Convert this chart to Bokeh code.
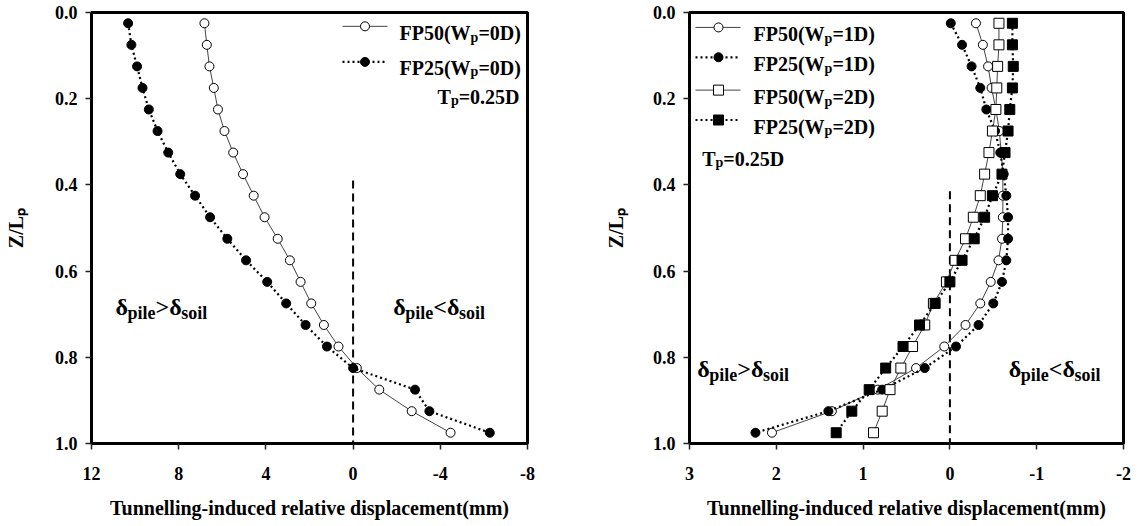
from bokeh.plotting import figure
from bokeh.models import Range1d, FixedTicker, PrintfTickFormatter, Label
from bokeh.layouts import row
from bokeh.embed import file_html
from bokeh.resources import INLINE

# ---------------- data ----------------
depth = [0.025, 0.075, 0.125, 0.175, 0.225, 0.275, 0.325, 0.375, 0.425, 0.475,
         0.525, 0.575, 0.625, 0.675, 0.725, 0.775, 0.825, 0.875, 0.925, 0.975]

# left panel (Wp = 0D)
fp50_w0 = [6.82, 6.71, 6.59, 6.39, 6.20, 5.90, 5.50, 5.05, 4.56, 4.06,
           3.46, 2.90, 2.41, 1.92, 1.34, 0.67, -0.17, -1.20, -2.69, -4.47]
fp25_w0 = [10.32, 10.17, 9.91, 9.66, 9.37, 8.97, 8.48, 7.93, 7.25, 6.56,
           5.77, 4.91, 3.94, 3.07, 2.18, 1.20, 0.00, -2.84, -3.50, -6.27]

# right panel (Wp = 1D, 2D)
fp50_w1 = [-0.30, -0.38, -0.44, -0.48, -0.53, -0.57, -0.59, -0.61, -0.61, -0.61,
           -0.60, -0.56, -0.47, -0.35, -0.18, 0.065, 0.39, 0.83, 1.36, 2.05]
fp25_w1 = [-0.01, -0.14, -0.25, -0.35, -0.42, -0.52, -0.58, -0.62, -0.65, -0.67,
           -0.67, -0.65, -0.60, -0.50, -0.33, -0.07, 0.29, 0.78, 1.40, 2.24]
fp50_w2 = [-0.565, -0.565, -0.55, -0.54, -0.53, -0.49, -0.45, -0.40, -0.35, -0.27,
           -0.18, -0.06, 0.04, 0.19, 0.29, 0.43, 0.565, 0.69, 0.78, 0.88]
fp25_w2 = [-0.72, -0.72, -0.73, -0.72, -0.69, -0.67, -0.635, -0.60, -0.49, -0.40,
           -0.28, -0.14, 0.00, 0.17, 0.35, 0.54, 0.74, 0.93, 1.13, 1.31]

left_xticks = [12, 8, 4, 0, -4, -8]
right_xticks = [3, 2, 1, 0, -1, -2]
yticks = [0.0, 0.2, 0.4, 0.6, 0.8, 1.0]
x_title = "Tunnelling-induced relative displacement(mm)"
y_title = "Z/L\u209a"

left_zero_line_top = 0.39
right_zero_line_top = 0.415

FONT = "Liberation Serif"
H = 524

# approximate advance widths (Times bold metrics, per 1000 em)
ADV = {'F': 611, 'P': 611, '(': 333, ')': 333, 'W': 1000, 'p': 556, '=': 570,
       'D': 722, 'T': 667, '.': 250, 'Z': 667, '/': 278, 'L': 667, 'i': 278,
       'l': 278, 'e': 444, 's': 389, 'o': 500, '>': 570, '<': 570, '\u03b4': 500}


def tw(text, size):
    return sum(ADV.get(c, 500) for c in text) * size / 1000.0


def converters(x0, x1, FL, FW, FT, FH):
    fx = lambda px: x0 + (px - FL) * (x1 - x0) / FW
    fy = lambda py: (py - FT) / FH
    return fx, fy


def rich(p, fx, fy, xpx, base, parts, align="left"):
    total = sum(tw(t, s) for t, s, d in parts)
    x = xpx - total if align == "right" else xpx
    for t, s, d in parts:
        p.add_layout(Label(x=fx(x), y=fy(base + d), text=t, text_font=FONT,
                           text_font_size=f"{s}px", text_font_style="bold",
                           text_baseline="alphabetic", text_align="left",
                           text_color="black"))
        x += tw(t, s)


def make_fig(xr, ticks_x, width, mbl, mbr, mbt, mbb, ytitle_standoff):
    p = figure(width=width, height=H, x_range=Range1d(*xr), y_range=Range1d(1.0, 0.0),
               output_backend="svg", toolbar_location=None,
               min_border_left=mbl, min_border_right=mbr, min_border_top=mbt,
               min_border_bottom=mbb, background_fill_color="white",
               border_fill_color="white")
    p.xgrid.visible = False
    p.ygrid.visible = False
    p.outline_line_color = "black"
    p.outline_line_width = 3
    p.outline_line_alpha = 1
    p.xaxis.ticker = FixedTicker(ticks=ticks_x)
    p.xaxis.formatter = PrintfTickFormatter(format="%d")
    p.yaxis.ticker = FixedTicker(ticks=yticks)
    p.yaxis.formatter = PrintfTickFormatter(format="%.1f")
    for ax in (p.xaxis[0], p.yaxis[0]):
        ax.axis_line_color = "black"
        ax.axis_line_width = 3
        ax.major_tick_in = 0
        ax.major_tick_out = 6
        ax.major_tick_line_color = "#222222"
        ax.major_tick_line_width = 1.5
        ax.minor_tick_line_color = None
        ax.major_label_text_font = FONT
        ax.major_label_text_font_size = "18px"
        ax.major_label_text_font_style = "bold"
        ax.major_label_text_color = "black"
        ax.major_label_standoff = 8
        ax.axis_label_text_font = FONT
        ax.axis_label_text_font_size = "20px"
        ax.axis_label_text_font_style = "bold"
        ax.axis_label_text_color = "black"
    p.xaxis.major_label_standoff = 17
    p.xaxis.axis_label = x_title
    p.xaxis.axis_label_standoff = 14
    p.yaxis.axis_label = y_title
    p.yaxis.axis_label_standoff = ytitle_standoff
    return p


def series(p, xs, kind, marker, size):
    if kind == "open":
        p.line(xs, depth, line_color="#444444", line_width=1)
    else:
        p.line(xs, depth, line_color="black", line_width=2.2, line_dash="2 3")
    fill = "white" if kind == "open" else "black"
    p.scatter(xs, depth, marker=marker, size=size, fill_color=fill,
              line_color="black", line_width=1)


def legend_sample(p, fx, fy, x0, x1, xm, ypx, kind, marker, size):
    xs = [fx(x0), fx(x1)]
    ys = [fy(ypx), fy(ypx)]
    if kind == "open":
        p.line(xs, ys, line_color="#444444", line_width=1)
    else:
        p.line(xs, ys, line_color="black", line_width=2.2, line_dash="2 3")
    fill = "white" if kind == "open" else "black"
    p.scatter([fx(xm)], [fy(ypx)], marker=marker, size=size, fill_color=fill,
              line_color="black", line_width=1)


# ---------------- left panel ----------------
WL = 560
LFL, LFW, LFT, LFH = 91, 436, 12, 436
pl = make_fig((12, -8), left_xticks, WL, LFL, WL - LFL - LFW, LFT, H - LFT - LFH, 25)
fxl, fyl = converters(12, -8, LFL, LFW, LFT, LFH)
pl.segment(x0=[0], y0=[left_zero_line_top], x1=[0], y1=[1.0], line_color="black",
           line_width=2, line_dash="8 5")
series(pl, fp50_w0, "open", "circle", 9)
series(pl, fp25_w0, "filled", "circle", 9)

legend_sample(pl, fxl, fyl, 342, 387, 364.5, 26, "open", "circle", 9)
legend_sample(pl, fxl, fyl, 342, 387, 364.5, 62, "filled", "circle", 9)
rich(pl, fxl, fyl, 399, 33, [("FP50(W", 20, 0), ("p", 14, 4), ("=0D)", 20, 0)])
rich(pl, fxl, fyl, 399, 68, [("FP25(W", 20, 0), ("p", 14, 4), ("=0D)", 20, 0)])
rich(pl, fxl, fyl, 519, 97, [("T", 20, 0), ("p", 14, 4), ("=0.25D", 20, 0)], align="right")
rich(pl, fxl, fyl, 115, 310, [("\u03b4", 24, 0), ("pile", 18, 6), (">", 24, 0),
                              ("\u03b4", 24, 0), ("soil", 18, 6)])
rich(pl, fxl, fyl, 392.7, 310, [("\u03b4", 24, 0), ("pile", 18, 6), ("<", 24, 0),
                                ("\u03b4", 24, 0), ("soil", 18, 6)])

# ---------------- right panel ----------------
RFL, RFW, RFT, RFH = 689, 434, 10, 433
mbl_r = RFL - WL
WR = mbl_r + RFW + 8
pr = make_fig((3, -2), right_xticks, WR, mbl_r, 8, RFT, H - RFT - RFH, 23)
fxr, fyr = converters(3, -2, RFL, RFW, RFT, RFH)
pr.segment(x0=[0], y0=[right_zero_line_top], x1=[0], y1=[1.0], line_color="black",
           line_width=2, line_dash="8 5")
series(pr, fp50_w1, "open", "circle", 9)
series(pr, fp25_w1, "filled", "circle", 9)
series(pr, fp50_w2, "open", "square", 10)
series(pr, fp25_w2, "filled", "square", 10)

legend_sample(pr, fxr, fyr, 695, 740, 718, 25, "open", "circle", 9)
legend_sample(pr, fxr, fyr, 695, 740, 718, 55, "filled", "circle", 9)
legend_sample(pr, fxr, fyr, 695, 740, 718, 88, "open", "square", 10)
legend_sample(pr, fxr, fyr, 695, 740, 718, 118, "filled", "square", 10)
rich(pr, fxr, fyr, 753, 32, [("FP50(W", 20, 0), ("p", 14, 4), ("=1D)", 20, 0)])
rich(pr, fxr, fyr, 753, 62, [("FP25(W", 20, 0), ("p", 14, 4), ("=1D)", 20, 0)])
rich(pr, fxr, fyr, 753, 95, [("FP50(W", 20, 0), ("p", 14, 4), ("=2D)", 20, 0)])
rich(pr, fxr, fyr, 753, 125, [("FP25(W", 20, 0), ("p", 14, 4), ("=2D)", 20, 0)])
rich(pr, fxr, fyr, 701.7, 157, [("T", 20, 0), ("p", 14, 4), ("=0.25D", 20, 0)])
rich(pr, fxr, fyr, 696.7, 368, [("\u03b4", 24, 0), ("pile", 18, 6), (">", 24, 0),
                                ("\u03b4", 24, 0), ("soil", 18, 6)])
rich(pr, fxr, fyr, 1008.3, 368, [("\u03b4", 24, 0), ("pile", 18, 6), ("<", 24, 0),
                                 ("\u03b4", 24, 0), ("soil", 18, 6)])

layout = row(pl, pr)
open("out.html", "w").write(file_html(layout, INLINE))
